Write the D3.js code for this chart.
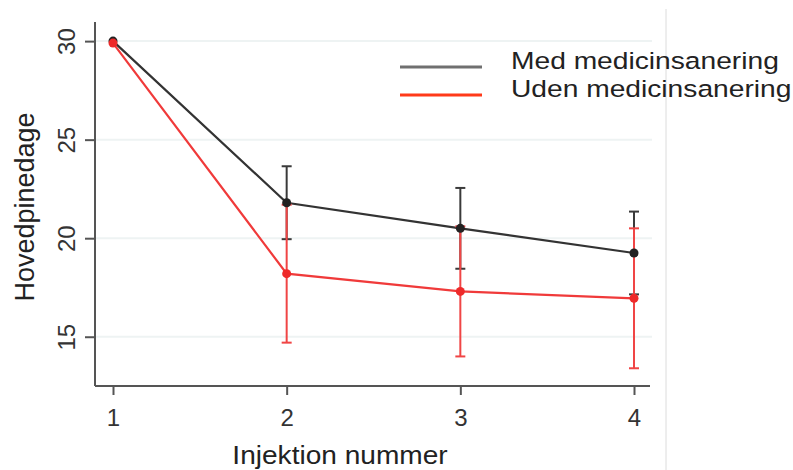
<!DOCTYPE html>
<html>
<head>
<meta charset="utf-8">
<script src="https://cdn.jsdelivr.net/npm/d3@7"></script>
<style>
  html, body { margin: 0; padding: 0; background: #fff; }
  svg { display: block; font-family: "Liberation Sans", Arial, sans-serif; }
</style>
</head>
<body>
<script>
// Injection number on the x axis
const injections = [1, 2, 3, 4];
// Mean headache days per group, with error bar half-widths
const medValues = [30, 21.8, 20.5, 19.25];
const medErrors = [0, 1.85, 2.05, 2.1];
const udenValues = [29.9, 18.2, 17.3, 16.95];
const udenErrors = [0, 3.5, 3.3, 3.55];
const yTicks = [15, 20, 25, 30];
const seriesNames = ["Med medicinsanering", "Uden medicinsanering"];

const W = 793, H = 470;
const svg = d3.select("body").append("svg").attr("width", W).attr("height", H);

const x = d3.scaleLinear().domain([1, 4]).range([113, 634]);
const y = d3.scaleLinear().domain([12.5, 30.97]).range([386, 22]);

// separator line at right
svg.append("line").attr("x1", 666).attr("x2", 666).attr("y1", 9).attr("y2", H)
  .attr("stroke", "#dcdcdc").attr("stroke-width", 1);

// faint horizontal gridlines
svg.append("g").selectAll("line").data(yTicks).join("line")
  .attr("x1", 96).attr("x2", 652)
  .attr("y1", d => y(d)).attr("y2", d => y(d))
  .attr("stroke", "#eef3f3").attr("stroke-width", 2);

// axes
const axisColor = "#555";
const yAxis = svg.append("g").attr("transform", "translate(95,0)")
  .call(d3.axisLeft(y).tickValues(yTicks).tickSize(10).tickPadding(0).tickFormat(d3.format("d")));
yAxis.select(".domain").attr("d", `M0,${y(30.97)}V${y(12.5)}`);
const xAxis = svg.append("g").attr("transform", "translate(0,386)")
  .call(d3.axisBottom(x).tickValues(injections).tickSize(9).tickPadding(0).tickFormat(d3.format("d")));
xAxis.select(".domain").attr("d", "M95,0H650");
[xAxis, yAxis].forEach(g => {
  g.select(".domain").attr("stroke", axisColor).attr("stroke-width", 2);
  g.selectAll(".tick line").attr("stroke", axisColor).attr("stroke-width", 2);
  g.selectAll(".tick text").attr("fill", "#333").attr("font-size", 24)
    .attr("font-family", "Liberation Sans, Arial, sans-serif");
});
yAxis.selectAll(".tick text")
  .attr("text-anchor", "middle").attr("dy", null).attr("x", null)
  .attr("transform", "translate(-29,0) rotate(-90)")
  .attr("dominant-baseline", "central");
xAxis.selectAll(".tick text").attr("dy", null).attr("y", 40);

// axis titles
svg.append("text").attr("transform", "translate(340,464) scale(1.08,1)")
  .attr("text-anchor", "middle").attr("font-size", 26).attr("fill", "#222")
  .text("Injektion nummer");
svg.append("text").attr("transform", "translate(34,207) rotate(-90)")
  .attr("text-anchor", "middle").attr("font-size", 27).attr("fill", "#222")
  .text("Hovedpinedage");

function seriesData(vals, errs) {
  return injections.map((d, i) => ({ x: d, v: vals[i], e: errs[i] }));
}

function drawLinesAndBars(data, lineColor, barColor) {
  const g = svg.append("g");
  g.append("path").datum(data)
    .attr("d", d3.line().x(d => x(d.x)).y(d => y(d.v)))
    .attr("fill", "none").attr("stroke", lineColor).attr("stroke-width", 2.2);
  const bars = g.selectAll(".err").data(data.filter(d => d.e > 0)).join("g");
  bars.append("line")
    .attr("x1", d => x(d.x)).attr("x2", d => x(d.x))
    .attr("y1", d => y(d.v + d.e)).attr("y2", d => y(d.v - d.e))
    .attr("stroke", barColor).attr("stroke-width", 2);
  [1, -1].forEach(s => {
    bars.append("line")
      .attr("x1", d => x(d.x) - 5).attr("x2", d => x(d.x) + 5)
      .attr("y1", d => y(d.v + s * d.e)).attr("y2", d => y(d.v + s * d.e))
      .attr("stroke", barColor).attr("stroke-width", 2);
  });
}

function drawDots(data, color) {
  svg.append("g").selectAll("circle").data(data).join("circle")
    .attr("cx", d => x(d.x)).attr("cy", d => y(d.v)).attr("r", 4.5)
    .attr("fill", color);
}

const med = seriesData(medValues, medErrors);
const uden = seriesData(udenValues, udenErrors);

drawLinesAndBars(med, "#333", "#3a3a3a");
drawLinesAndBars(uden, "#f03a3a", "#f04545");
drawDots(med, "#222");
drawDots(uden, "#ee2a2a");

// legend
const legend = svg.append("g");
const legendColors = ["#707070", "#ff3a1a"];
seriesNames.forEach((name, i) => {
  const ly = 67 + i * 28;
  legend.append("line").attr("x1", 400).attr("x2", 482).attr("y1", ly).attr("y2", ly)
    .attr("stroke", legendColors[i]).attr("stroke-width", 3);
  legend.append("text").attr("transform", `translate(511,${68.5 + i * 28.5}) scale(1.2,1)`)
    .attr("font-size", 23.5).attr("fill", "#222").text(name);
});
</script>
</body>
</html>
